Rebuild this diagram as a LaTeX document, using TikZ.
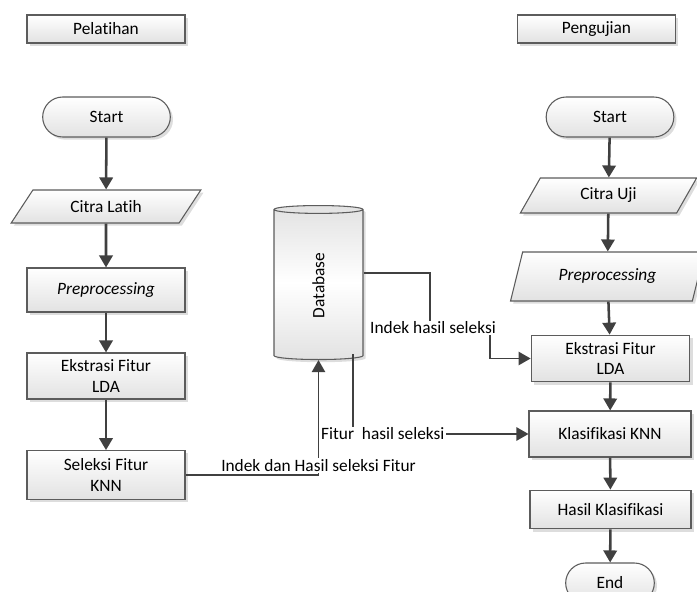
\documentclass[tikz,border=0pt]{standalone}
\usepackage{fontspec}
\setmainfont{Carlito}[Ligatures=NoCommon]
\usetikzlibrary{shapes.geometric,shapes.misc,arrows.meta,shadows,calc}

\definecolor{boxfill}{HTML}{E2E2E2}
\definecolor{boxline}{HTML}{5C5C5C}
\definecolor{arrowgray}{HTML}{404040}

\tikzset{
  box/.style={draw=boxline, line width=0.8pt, top color=white, bottom color=boxfill,
    drop shadow={shadow xshift=2pt, shadow yshift=-2pt, fill=gray!45, opacity=0.6},
    align=center, inner sep=2pt, font=\fontsize{13}{15.5}\selectfont},
  term/.style={box, rounded rectangle, minimum height=30pt},
  io/.style={box, trapezium, trapezium stretches=true},
  flow/.style={draw=arrowgray, line width=1.9pt, -{Triangle[width=10pt,length=9pt]}},
  link/.style={draw=arrowgray, line width=1.1pt},
  tip/.style={-{Triangle[width=10pt,length=9pt]}},
  lbl/.style={fill=white, inner sep=1pt, font=\fontsize{13}{15.5}\selectfont}
}

\begin{document}
\begin{tikzpicture}[x=0.75pt, y=-0.75pt]

\useasboundingbox (0,0) rectangle (697,592);

% Pelatihan column
\node[box, minimum width=118.5pt, minimum height=21pt] (pel) at (106,29) {Pelatihan};
\node[term, minimum width=99.75pt] (start1) at (106.5,117) {Start};
\node[io, trapezium left angle=57, trapezium right angle=123,
  minimum width=142.5pt, minimum height=24.75pt] (citra1) at (106,206.5) {Citra Latih};
\node[box, minimum width=118.5pt, minimum height=33pt] (pre1) at (106,290) {\textit{Preprocessing}};
\node[box, minimum width=118.5pt, minimum height=34.5pt] (eks1) at (106,376) {Ekstrasi Fitur\\LDA};
\node[box, minimum width=118.5pt, minimum height=36.5pt] (sel1) at (106,475) {Seleksi Fitur\\KNN};

% Pengujian column
\node[box, minimum width=118.5pt, minimum height=21pt] (uji) at (596.5,29) {Pengujian};
\node[term, minimum width=99.75pt] (start2) at (610,117) {Start};
\node[io, trapezium left angle=66, trapezium right angle=114,
  minimum width=132.75pt, minimum height=26.25pt] (citra2) at (608.5,195.5) {Citra Uji};
\node[io, trapezium left angle=70, trapezium right angle=110,
  minimum width=146pt, minimum height=36.75pt] (pre2) at (607.5,276.5) {\textit{Preprocessing}};
\node[box, minimum width=119pt, minimum height=35pt] (eks2) at (610.5,358.5) {Ekstrasi Fitur\\LDA};
\node[box, minimum width=121.5pt, minimum height=34.5pt] (klas) at (610,434) {Klasifikasi KNN};
\node[box, minimum width=120.75pt, minimum height=29pt] (hasil) at (610.5,509.5) {Hasil Klasifikasi};
\node[term, minimum width=70.5pt] (end) at (610,583) {End};

% Database
\node[cylinder, rotate=90, draw=boxline, line width=0.8pt, aspect=0.45,
  top color=boxfill, bottom color=boxfill, middle color=white,
  drop shadow={shadow xshift=2pt, shadow yshift=-2pt, fill=gray!45, opacity=0.6},
  minimum width=66.75pt, minimum height=115.5pt, inner sep=2pt, anchor=top,
  font=\fontsize{13}{15.5}\selectfont] (db) at (318.5,205) {Database};

% Flow arrows
\draw[flow] (start1) -- (citra1);
\draw[flow] (citra1) -- (pre1);
\draw[flow] (pre1) -- (eks1);
\draw[flow] (eks1) -- (sel1);

\draw[flow] (start2) -- (citra2);
\draw[flow] (citra2) -- (pre2);
\draw[flow] (pre2) -- (eks2);
\draw[flow] (eks2) -- (klas);
\draw[flow] (klas) -- (hasil);
\draw[flow] (hasil) -- (end);

% Database connectors
\coordinate (dbout) at ($(db.bottom)+(34.5,-6)$);
\coordinate (dbidx) at (db.south |- 0,273);
\coordinate (j1) at (430,328);
\coordinate (j2) at (490,328);

\draw[link, tip] (sel1.east) -| node[lbl, above=1pt, pos=0.5] {Indek dan Hasil seleksi Fitur} (db.bottom);
\draw[link, tip] (dbout) |- node[lbl, pos=0.585] {Fitur\ \ hasil seleksi} (klas.west);
\draw[link, tip] (dbidx) -| (j1) -- node[lbl, pos=0.05] {Indek hasil seleksi} (j2) |- (eks2.west);

\end{tikzpicture}
\end{document}
